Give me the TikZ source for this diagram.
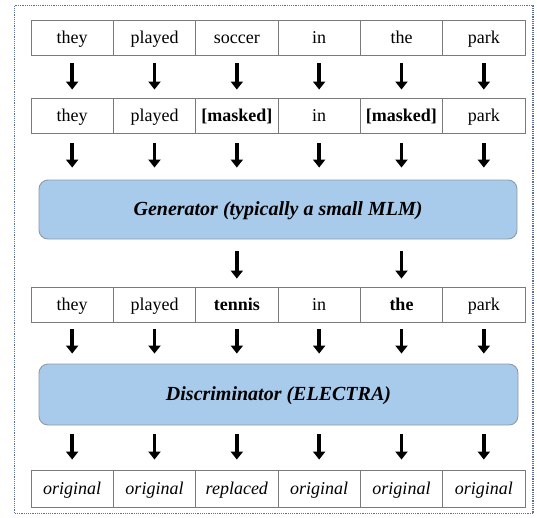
\documentclass[tikz,border=0pt]{standalone}
\usepackage{fontspec}
\setmainfont{Liberation Serif}
\usetikzlibrary{arrows.meta}
\definecolor{cellline}{HTML}{7A7A7A}
\definecolor{boxfill}{HTML}{A8CAEB}
\definecolor{boxline}{HTML}{8E9AA6}
\definecolor{frameline}{HTML}{5F7192}
\tikzset{
  cell/.style={draw=cellline, line width=0.9pt, minimum width=82.33pt, minimum height=35pt, inner sep=0pt,
    text height=12.5pt, text depth=1.5pt, font=\fontsize{18}{21}\selectfont},
  bigbox/.style={draw=boxline, fill=boxfill, line width=0.9pt, rounded corners=9pt, inner sep=0pt,
    text height=14pt, text depth=3pt, font=\fontsize{20}{24}\selectfont\bfseries\itshape},
  arr/.style={line width=3.6pt, -{Triangle[width=12pt,length=8pt]}, black},
}
\begin{document}
\begin{tikzpicture}[x=1pt,y=-1pt]
\useasboundingbox (0,0) rectangle (537,517);
\draw[frameline, line width=1.4pt, dash pattern=on 1.2pt off 1.0pt] (14.5,5.5) rectangle (533,513.5);

% row 1
\foreach \i/\t in {1/they,2/played,3/soccer,4/in,5/the,6/park}{
  \node[cell] (a\i) at ({31+41.17+82.33*(\i-1)}, 37.5) {\t};
}
% row 2
\foreach \i/\t in {1/they,2/played,3/\textbf{[masked]},4/in,5/\textbf{[masked]},6/park}{
  \node[cell] (b\i) at ({31+41.17+82.33*(\i-1)}, 115.5) {\t};
}
% generator
\node[bigbox, minimum width=478pt, minimum height=59pt] (gen) at (278,209.5) {Generator (typically a small MLM)};
% row 3
\foreach \i/\t in {1/they,2/played,3/\textbf{tennis},4/in,5/\textbf{the},6/park}{
  \node[cell] (c\i) at ({31+41.17+82.33*(\i-1)}, 304.5) {\t};
}
% discriminator
\node[bigbox, minimum width=479pt, minimum height=61pt] (dis) at (278.5,394.5) {Discriminator (ELECTRA)};
% row 4
\foreach \i/\t in {1/original,2/original,3/replaced,4/original,5/original,6/original}{
  \node[cell, minimum height=37pt] (d\i) at ({31+41.17+82.33*(\i-1)}, 488.5) {\itshape\t};
}

% arrows
\foreach \i in {1,...,6}{
  \draw[arr, shorten <=8pt, shorten >=8pt] (a\i) -- (b\i);
  \draw[arr, shorten <=10pt, shorten >=12pt] (b\i) -- (b\i |- gen.north);
  \draw[arr, shorten <=7pt, shorten >=10pt] (c\i) -- (c\i |- dis.north);
  \draw[arr, shorten <=9pt, shorten >=10pt] (d\i |- dis.south) -- (d\i);
}
\foreach \i in {3,5}{
  \draw[arr, shorten <=12pt, shorten >=8pt] (c\i |- gen.south) -- (c\i);
}
\end{tikzpicture}
\end{document}
